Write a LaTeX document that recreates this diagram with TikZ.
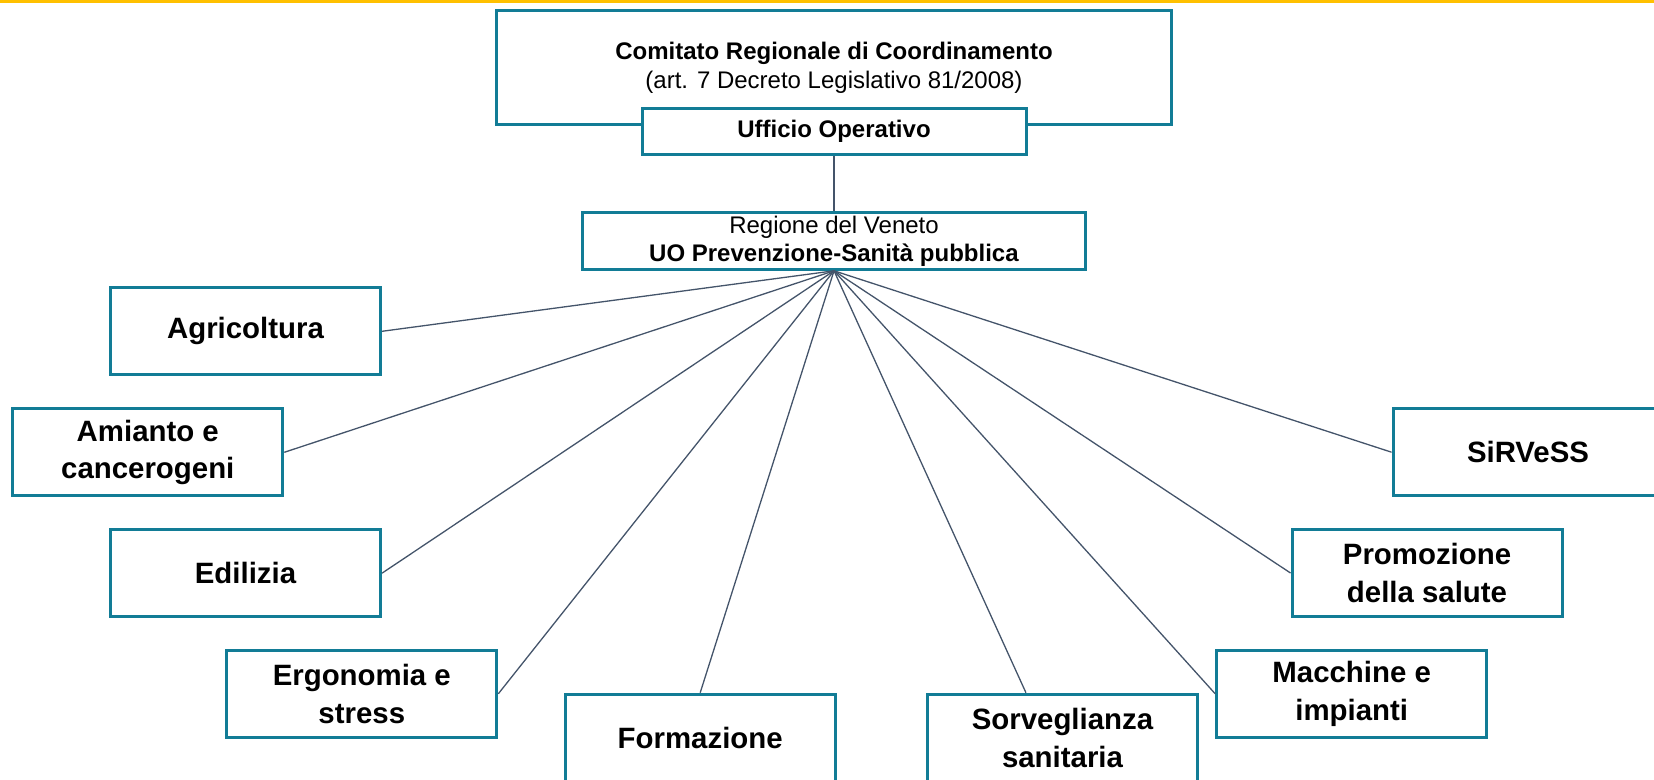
\documentclass[tikz,border=0pt]{standalone}
\usepackage{fontspec}
\setmainfont{Liberation Sans}
\usetikzlibrary{calc}

\definecolor{boxteal}{RGB}{18,124,150}
\definecolor{linkslate}{RGB}{68,84,106}
\definecolor{topyellow}{RGB}{255,192,0}

\tikzset{
    unit/.style={draw=boxteal, line width=1.5pt, fill=white, align=center, inner sep=0pt},
    area/.style={unit, minimum width=135pt, minimum height=43.5pt,
        font=\bfseries\fontsize{14.7}{18.8}\selectfont},
    link/.style={draw=linkslate, line width=0.65pt},
}

\begin{document}
\begin{tikzpicture}[x=0.5pt, y=-0.5pt]

\useasboundingbox (0,0) rectangle (1654,780);
\clip (0,0) rectangle (1654,780);

\fill [topyellow] (0,0) rectangle (1654,3.5);

% Regional committee and its office

\node [unit, minimum width=337.8pt, minimum height=56.7pt,
    font=\fontsize{12}{14.5}\selectfont] (comitato) at (834,67.5)
    {\textbf{Comitato Regionale di Coordinamento}\\(art. 7 Decreto Legislativo 81/2008)};

\node [unit, minimum width=192pt, minimum height=23pt,
    font=\bfseries\fontsize{12}{14}\selectfont] (ufficio) at (834,131.2)
    {Ufficio Operativo};

\node [unit, minimum width=251.8pt, minimum height=28.4pt,
    font=\fontsize{12}{14}\selectfont] (regione) at (834,240.9)
    {Regione del Veneto\\\textbf{UO Prevenzione-Sanità pubblica}};

\draw [link] (ufficio) -- (regione);

% Working areas

\node [area] (agricoltura) at (245.5,331.3) {Agricoltura};
\node [area] (amianto) at (147.8,452.3) {Amianto e\\cancerogeni};
\node [area] (edilizia) at (245.5,573.2) {Edilizia};
\node [area] (ergonomia) at (361.8,693.8) {Ergonomia e\\stress};
\node [area] (formazione) at (700.2,737.7) {Formazione};
\node [area] (sorveglianza) at (1062.5,737.7) {Sorveglianza\\sanitaria};
\node [area] (macchine) at (1351.7,693.8) {Macchine e\\impianti};
\node [area] (promozione) at (1427,573) {Promozione\\della salute};
\node [area] (sirvess) at (1528,452.2) {SiRVeSS};

\foreach \area/\side in {agricoltura/east, amianto/east, edilizia/east,
    ergonomia/east, formazione/north, macchine/west, promozione/west, sirvess/west}
    \draw [link] (regione.south) -- (\area.\side);

\draw [link] (regione.south) --
    ($(sorveglianza.north west)!0.366!(sorveglianza.north east)$);

\end{tikzpicture}
\end{document}
